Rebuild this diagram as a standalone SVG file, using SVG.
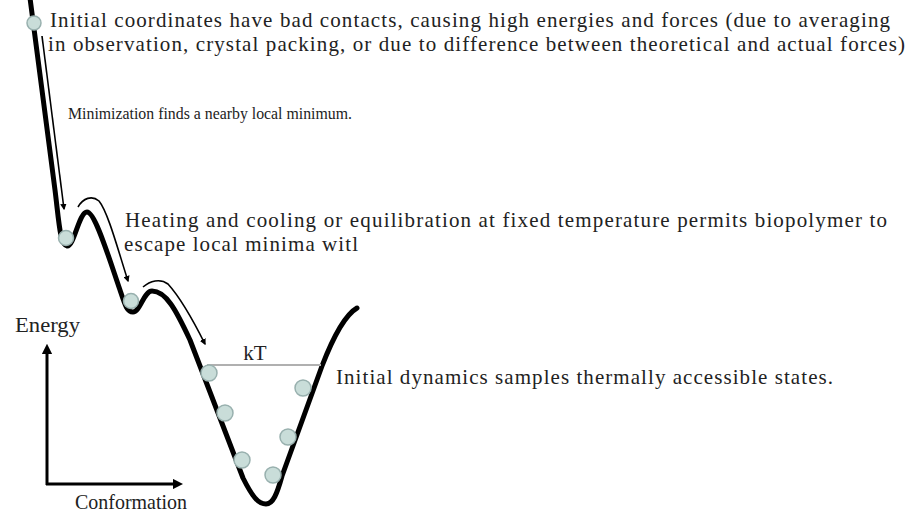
<svg xmlns="http://www.w3.org/2000/svg" width="913" height="513" viewBox="0 0 913 513">
<style>
.t{font-family:"Liberation Serif","Times New Roman",serif;font-size:21px;fill:#222}
.m{font-size:16.5px}
.curve{fill:none;stroke:#000;stroke-width:5;stroke-linecap:round;stroke-linejoin:round}
.arr{fill:none;stroke:#000;stroke-width:1.6;marker-end:url(#ah)}
.axis{fill:none;stroke:#000;stroke-width:3;marker-end:url(#ah2)}
.ball{fill:#c9ddd9;stroke:#98b0ae;stroke-width:1.5}
</style>
<defs>
<marker id="ah" viewBox="0 0 10 10" refX="8" refY="5" markerWidth="4" markerHeight="4" orient="auto" markerUnits="strokeWidth"><path d="M0,0 L10,5 L0,10 z" fill="#000"/></marker>
<marker id="ah2" viewBox="0 0 10 10" refX="6" refY="5" markerWidth="3.5" markerHeight="3.5" orient="auto" markerUnits="strokeWidth"><path d="M0,0 L10,5 L0,10 z" fill="#000"/></marker>
</defs>
<rect width="913" height="513" fill="#fff"/>
<g id="landscape">
<path class="curve" d="M30 -2 L55 190 C59 222 60 245 67 246 C74 247 79 212 87 212 C95 212 108 255 120 290 C125 305 127 312 133 312 C140 312 144 291 152 291 C166 291 176 310 190 340 L243 478 C252 496 258 504 266 504 C273 504 277 494 282 476 L322 366 C334 335 345 315 357 308"/>
</g>
<g id="connectors">
<path class="arr" d="M42 36 L64 209"/>
<path class="arr" d="M78 207 C83 198 92 195 99 201 C108 212 118 250 128 281"/>
<path class="arr" d="M143 287 C150 281 160 278 168 284 C178 295 193 320 205 344"/>
</g>
<g id="kT">
<line x1="207" y1="365" x2="321" y2="365" stroke="#b0b0b0" stroke-width="2"/>
<text class="t" x="255" y="360" text-anchor="middle">kT</text>
</g>
<g id="balls">
<circle class="ball" cx="34" cy="23" r="7"/>
<circle class="ball" cx="66" cy="238" r="7.5"/>
<circle class="ball" cx="131" cy="301" r="7.5"/>
<circle class="ball" cx="209" cy="373" r="8"/>
<circle class="ball" cx="225" cy="413" r="8"/>
<circle class="ball" cx="242" cy="460" r="8"/>
<circle class="ball" cx="273" cy="475" r="8"/>
<circle class="ball" cx="288" cy="437" r="8"/>
<circle class="ball" cx="303" cy="388" r="8"/>
</g>
<g id="axes">
<path class="axis" d="M47 485 L47 348"/>
<path class="axis" d="M46 484 L179 484"/>
<text class="t" x="15" y="332" textLength="65" lengthAdjust="spacingAndGlyphs">Energy</text>
<text class="t" x="75" y="509" textLength="112" lengthAdjust="spacingAndGlyphs">Conformation</text>
</g>
<g id="labels">
<text class="t" x="50" y="27" textLength="840" lengthAdjust="spacing">Initial coordinates have bad contacts, causing high energies and forces (due to averaging</text>
<text class="t" x="48" y="51" textLength="857" lengthAdjust="spacing">in observation, crystal packing, or due to difference between theoretical and actual forces)</text>
<text class="t m" x="68" y="119" textLength="284" lengthAdjust="spacingAndGlyphs">Minimization finds a nearby local minimum.</text>
<text class="t" x="125" y="227" textLength="762" lengthAdjust="spacing">Heating and cooling or equilibration at fixed temperature  permits biopolymer to</text>
<text class="t" x="124" y="251" textLength="234" lengthAdjust="spacing">escape local minima witl</text>
<text class="t" x="336" y="384" textLength="497" lengthAdjust="spacing">Initial dynamics samples thermally accessible states.</text>
</g>
</svg>
